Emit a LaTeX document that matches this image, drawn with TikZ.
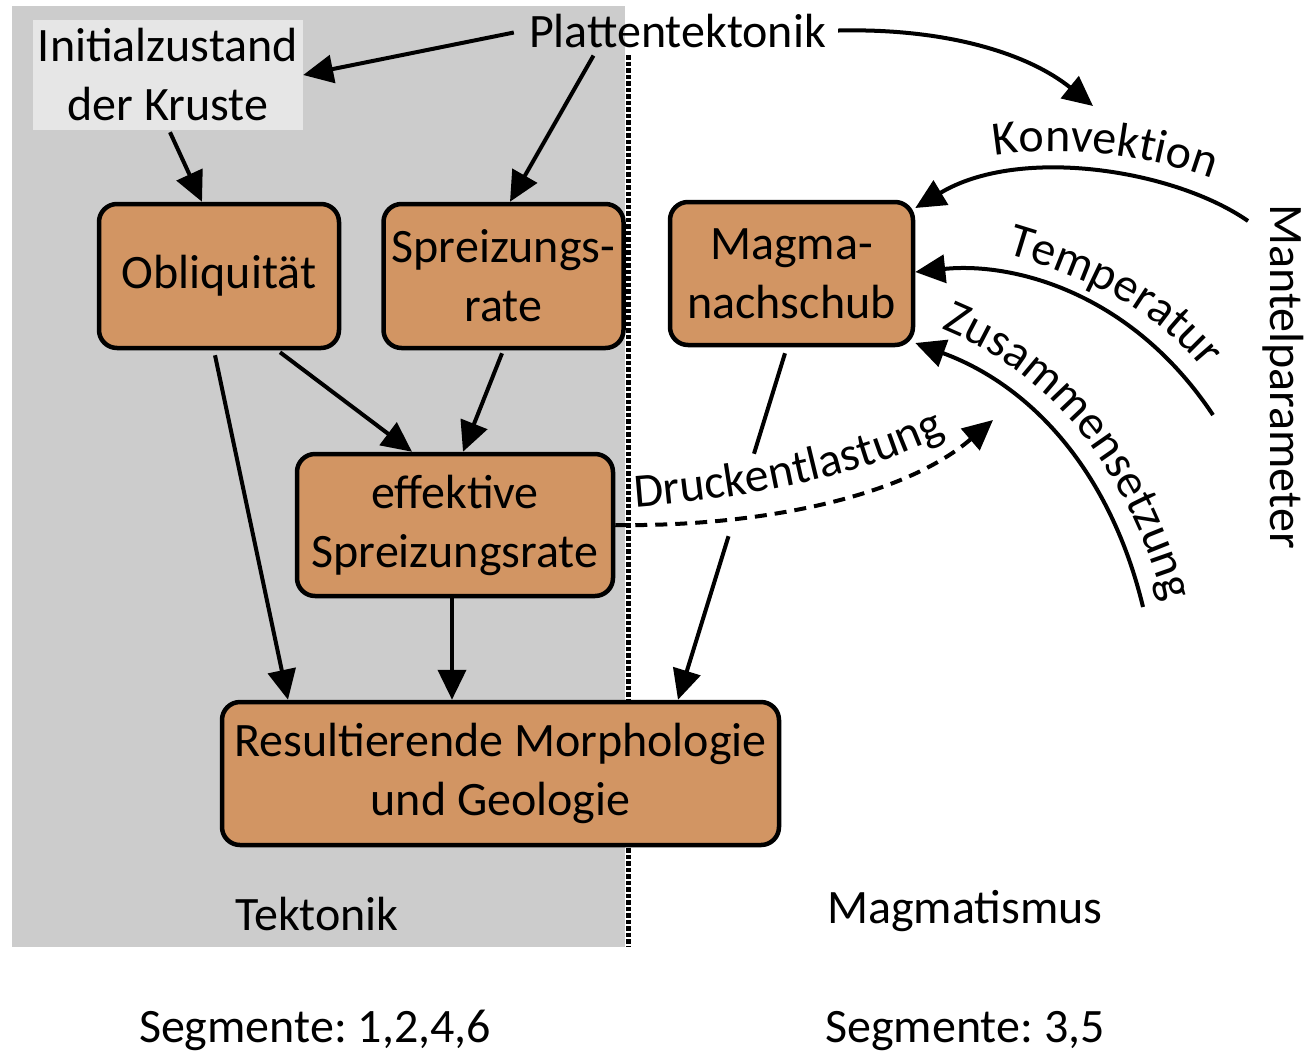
\documentclass[tikz,border=0pt]{standalone}
\usepackage{fontspec}
\setmainfont{Carlito}
\usetikzlibrary{arrows.meta,calc,decorations.text}
\definecolor{boxfill}{RGB}{210,149,99}
\definecolor{bggray}{RGB}{204,204,204}
\definecolor{initgray}{RGB}{230,230,230}
\newcommand\bigf{\fontsize{48}{59}\selectfont}
\frenchspacing
\begin{document}
\begin{tikzpicture}[x=1pt,y=-1pt, font=\bigf,
  orangebox/.style={draw, line width=4.5pt, rounded corners=18pt, fill=boxfill, align=center, inner sep=0pt},
  arr/.style={line width=4pt, -{Triangle[length=30pt,width=28pt]}},
  plainline/.style={line width=4pt},
  lbl/.style={inner sep=0pt, anchor=base},
  curvetext/.style={decorate, decoration={text along path, text align=left, text={|\bigf|#1}}}
]
\useasboundingbox (0,0) rectangle (1312,1053);
\fill[white] (0,0) rectangle (1312,1053);
\fill[bggray] (12,6) rectangle (625,947);
\draw[line width=5pt, dash pattern=on 4.5pt off 2pt] (628.5,55) -- (628.5,947);

% nodes
\node[fill=initgray, minimum width=270pt, minimum height=110pt, align=center, inner sep=0pt] (init) at (168,75) {Initialzustand\\der Kruste};
\node[lbl] (plat) at (677.5,47) {Plattentektonik};
\node[orangebox, minimum width=240pt, minimum height=144pt] (obl) at (219,276) {Obliquität};
\node[orangebox, minimum width=240pt, minimum height=144pt] (spr) at (503.5,276) {Spreizungs-\\rate};
\node[orangebox, minimum width=243pt, minimum height=143pt] (mag) at (791.5,273.5) {Magma-\\nachschub};
\node[orangebox, minimum width=316pt, minimum height=142pt] (eff) at (455,525) {effektive\\Spreizungsrate};
\node[orangebox, minimum width=557pt, minimum height=143pt] (res) at (500.5,773.5) {Resultierende Morphologie\\und Geologie};

\node[lbl] (tek) at (317,930) {Tektonik};
\node[lbl] (magm) at (965,923) {Magmatismus};
\node[lbl] (seg1) at (315,1042) {Segmente: 1,2,4,6};
\node[lbl] (seg2) at (965,1042) {Segmente: 3,5};
\node[lbl, rotate=-90] (mantel) at (1270,376.5) {Mantelparameter};

% connectors (left side)
\draw[arr] ([xshift=-15pt,yshift=-2pt]plat.west) -- (init.east);
\draw[arr] ([xshift=-84pt,yshift=-8pt]plat.south) -- ([xshift=6.5pt]spr.north);
\draw[arr] ([xshift=2pt,yshift=-2pt]init.south) -- ([xshift=-17pt]obl.north);
\draw[arr] ([xshift=61pt,yshift=-2pt]obl.south) -- ([xshift=-43pt]eff.north);
\draw[arr] ([xshift=-1.5pt,yshift=-3pt]spr.south) -- ([xshift=8pt]eff.north);
\draw[arr] ([xshift=-4pt,yshift=-5pt]obl.south) -- ([xshift=-212.5pt]res.north);
\draw[arr] ([xshift=-3pt]eff.south) -- ([xshift=-48.5pt]res.north);

% Magmanachschub -> Resultierende (interrupted by label)
\coordinate (magout) at ([xshift=-6.5pt,yshift=-6pt]mag.south);
\coordinate (resin) at ([xshift=177.5pt]res.north);
\draw[plainline] (magout) -- ($(magout)!0.29!(resin)$);
\draw[arr] ($(magout)!0.528!(resin)$) -- (resin);

% Druckentlastung
\coordinate (druckend) at (993,420);
\draw[arr, dash pattern=on 12pt off 8pt] (eff.east) .. controls (750,527) and (900,500) .. (druckend);
\path[curvetext=Druckentlastung] (635,507) .. controls (730,500) and (860,480) .. (955,430);

% Plattentektonik -> Konvektion
\coordinate (konvend) at (1093,106);
\draw[arr] ([xshift=12pt]plat.east) .. controls (950,28) and (1030,55) .. (konvend);

% Konvektion
\coordinate (konvstart) at (1248,221);
\draw[arr] (konvstart) .. controls (1175,170) and (1020,145) .. ([yshift=65.5pt]mag.east);
\path[curvetext=Konvektion] (995,156) .. controls (1050,146) and (1150,150) .. (1235,188);

% Temperatur
\coordinate (tempstart) at (1213,415);
\draw[arr] (tempstart) .. controls (1130,290) and (1010,262) .. ([yshift=1.5pt]mag.east);
\path[curvetext=Temperatur] (1006,254) .. controls (1080,276) and (1158,305) .. (1215,385);

% Zusammensetzung
\coordinate (zusstart) at (1143,607);
\draw[arr] (zusstart) .. controls (1110,470) and (1030,385) .. ([yshift=-69.5pt]mag.east);
\path[curvetext=Zusammensetzung] (941,329) .. controls (1043,370) and (1130,458) .. (1172,630);
\end{tikzpicture}
\end{document}
